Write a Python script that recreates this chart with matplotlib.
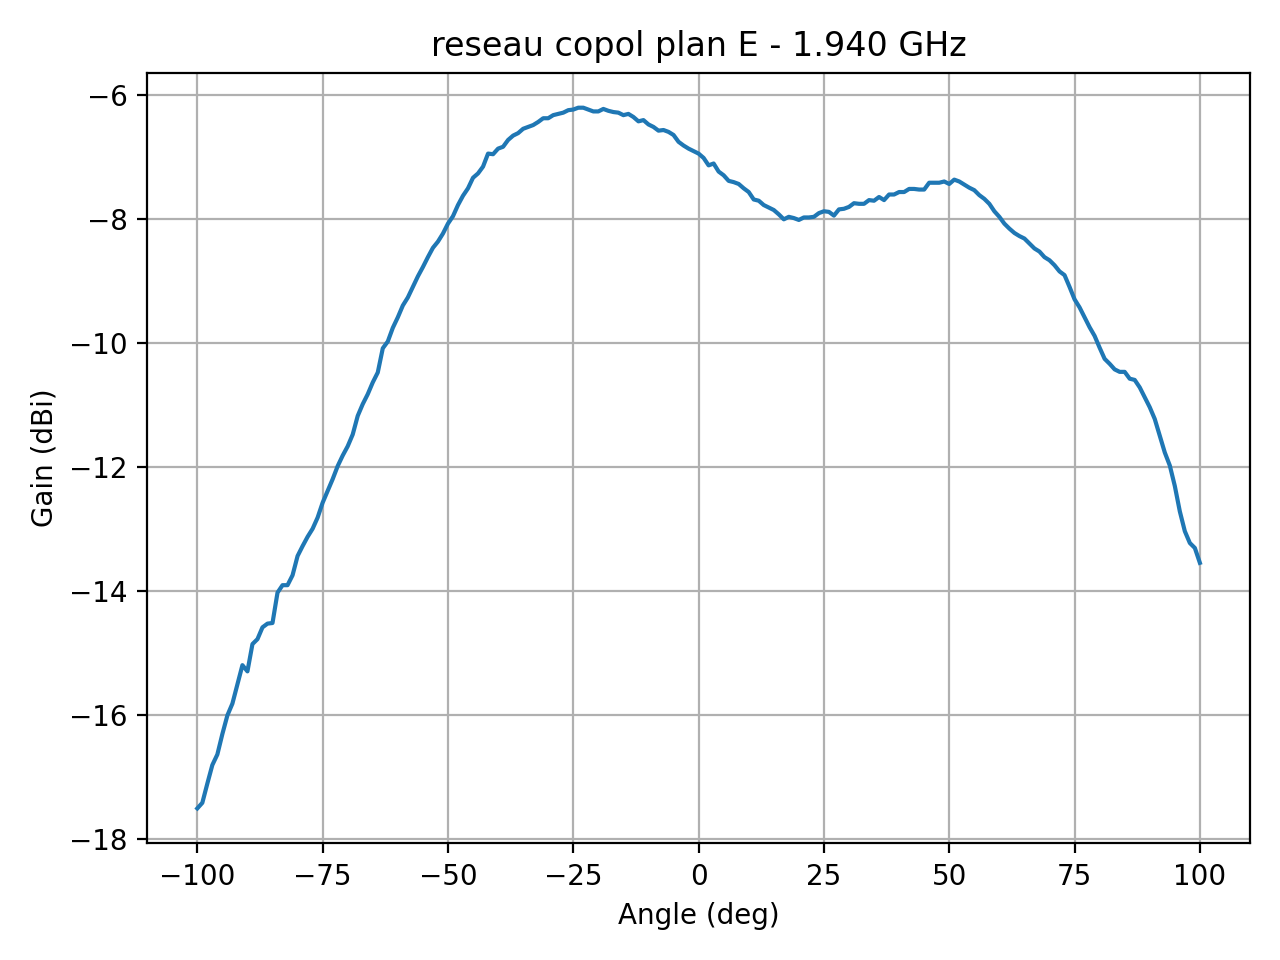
import numpy as np
import matplotlib.pyplot as plt

# Angles de mesure (deg), pas de 1 deg
angle = np.arange(-100, 101, 1)

# Gain copol plan E a 1.940 GHz (dBi)
gain = [
    -17.50, -17.41, -17.10, -16.80, -16.63, -16.30, -16.00, -15.81, -15.50, -15.19,
    -15.29, -14.85, -14.77, -14.58, -14.52, -14.51, -14.02, -13.90, -13.90, -13.74,
    -13.43, -13.27, -13.12, -12.99, -12.81, -12.57, -12.38, -12.19, -11.98, -11.81,
    -11.66, -11.47, -11.17, -10.98, -10.82, -10.63, -10.47, -10.08, -9.97, -9.75,
    -9.58, -9.39, -9.26, -9.09, -8.92, -8.77, -8.61, -8.46, -8.36, -8.23,
    -8.07, -7.95, -7.77, -7.62, -7.50, -7.33, -7.26, -7.15, -6.94, -6.95,
    -6.86, -6.83, -6.72, -6.65, -6.61, -6.54, -6.51, -6.48, -6.43, -6.37,
    -6.37, -6.32, -6.30, -6.28, -6.24, -6.23, -6.20, -6.20, -6.23, -6.26,
    -6.26, -6.22, -6.25, -6.27, -6.28, -6.32, -6.30, -6.35, -6.42, -6.40,
    -6.47, -6.51, -6.57, -6.56, -6.59, -6.64, -6.75, -6.81, -6.86, -6.90,
    -6.94, -7.01, -7.13, -7.10, -7.23, -7.29, -7.38, -7.40, -7.43, -7.50,
    -7.56, -7.68, -7.70, -7.77, -7.81, -7.85, -7.92, -8.00, -7.96, -7.98,
    -8.01, -7.97, -7.97, -7.96, -7.90, -7.87, -7.88, -7.94, -7.84, -7.83,
    -7.80, -7.74, -7.75, -7.75, -7.69, -7.70, -7.64, -7.69, -7.60, -7.60,
    -7.56, -7.56, -7.51, -7.51, -7.52, -7.52, -7.41, -7.41, -7.41, -7.39,
    -7.43, -7.36, -7.39, -7.44, -7.49, -7.53, -7.61, -7.67, -7.75, -7.87,
    -7.96, -8.07, -8.15, -8.22, -8.27, -8.31, -8.39, -8.47, -8.52, -8.61,
    -8.66, -8.74, -8.84, -8.90, -9.09, -9.29, -9.42, -9.58, -9.74, -9.88,
    -10.07, -10.25, -10.33, -10.42, -10.46, -10.46, -10.57, -10.59, -10.71, -10.87,
    -11.03, -11.22, -11.49, -11.76, -11.97, -12.30, -12.71, -13.03, -13.22, -13.30,
    -13.54,
]

plt.figure(figsize=(6.4, 4.8), dpi=200)
plt.plot(angle, gain)
plt.xlabel('Angle (deg)')
plt.ylabel('Gain (dBi)')
plt.title('reseau copol plan E - 1.940 GHz')
plt.grid(True)
plt.tight_layout()
plt.savefig('out.png')
